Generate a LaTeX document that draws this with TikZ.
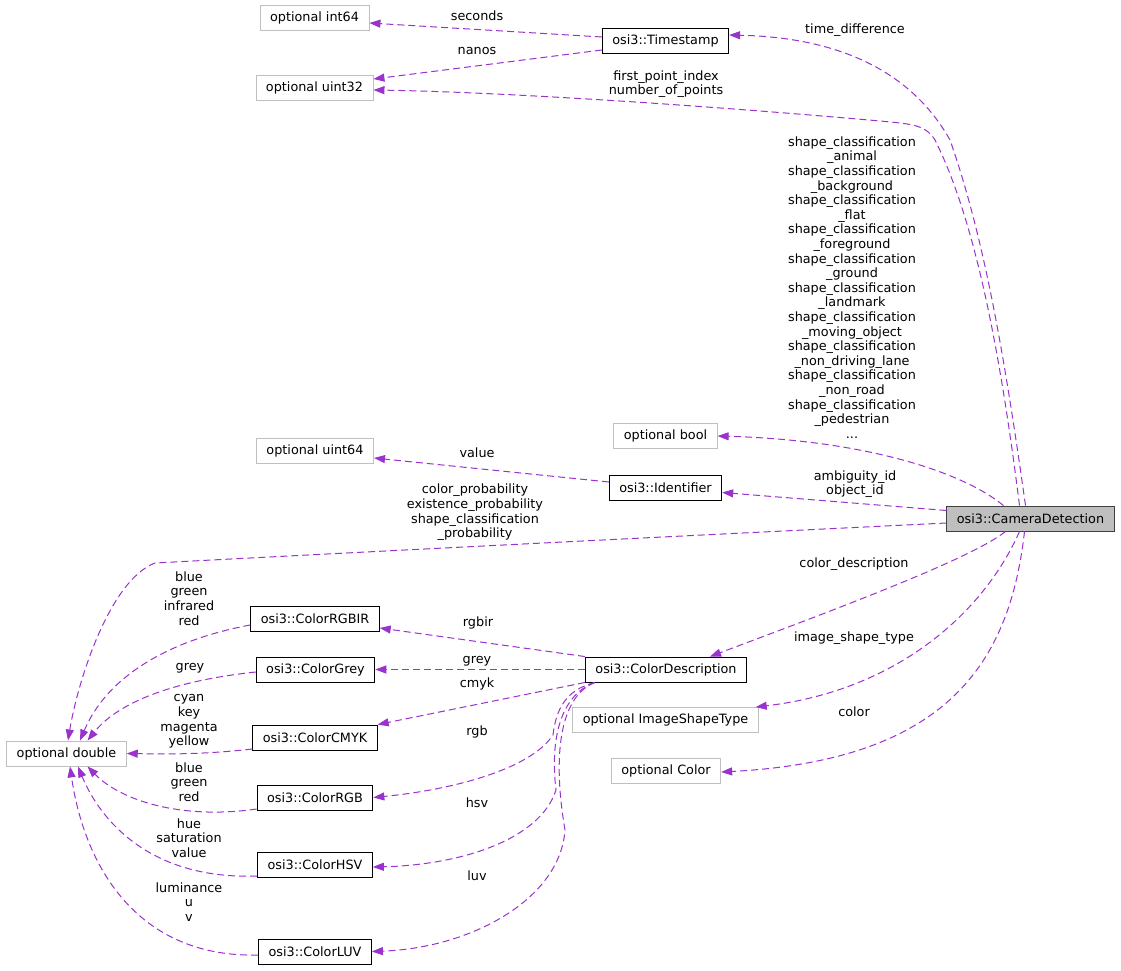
\documentclass[tikz,border=0pt]{standalone}
\usepackage{fontspec}
\setmainfont{DejaVu Sans}
\usetikzlibrary{arrows.meta}

\begin{document}
\begin{tikzpicture}[
            x=1pt,y=-1pt,
            cls/.style={draw=black,fill=white,line width=0.9pt,inner xsep=10pt,inner ysep=0pt,minimum height=25pt},
            opt/.style={cls,draw=gryx},
            lbl/.style={align=center,inner sep=0pt},
            edge/.style={purx,line width=1pt,dash pattern=on 7pt off 4pt,-{Triangle[length=11pt,width=8pt]}},
            every node/.append style={font=\fontsize{12.8}{14.6}\selectfont}
        ]
            \definecolor{purx}{HTML}{9A32CD}
            \definecolor{gryx}{HTML}{BFBFBF}
            \definecolor{cdx}{HTML}{BFBFBF}

            \fill [white] (0,0) rectangle (1121,971);
            \useasboundingbox (0,0) rectangle (1121,971);

            % classes
            \node (cd)     at (1030.5,518.5) [cls,fill=cdx,draw=black!75] {osi3::CameraDetection};
            \node (ts)     at (665.5,41)     [cls] {osi3::Timestamp};
            \node (ident)  at (665.5,487.5)  [cls] {osi3::Identifier};
            \node (cdesc)  at (666,669.5)    [cls] {osi3::ColorDescription};
            \node (rgbir)  at (315,618.5)    [cls] {osi3::ColorRGBIR};
            \node (grey)   at (315.5,669.5)  [cls] {osi3::ColorGrey};
            \node (cmyk)   at (315,737.5)    [cls] {osi3::ColorCMYK};
            \node (rgb)    at (315,797.5)    [cls] {osi3::ColorRGB};
            \node (hsv)    at (315,865)      [cls] {osi3::ColorHSV};
            \node (luv)    at (315,951.5)    [cls] {osi3::ColorLUV};

            % plain types
            \node (int64)  at (314.5,18)     [opt] {optional int64};
            \node (uint32) at (314.5,88)     [opt] {optional uint32};
            \node (uint64) at (315,450.5)    [opt] {optional uint64};
            \node (obool)  at (665.5,436)    [opt] {optional bool};
            \node (odbl)   at (66.5,753.5)   [opt] {optional double};
            \node (ishape) at (665.5,720)    [opt] {optional ImageShapeType};
            \node (ocolor) at (666,770.5)    [opt] {optional Color};

            % CameraDetection members
            \draw [edge] ([xshift=-5pt]cd.north) .. controls (1005,360) and (985,240) .. (950,140)
                .. controls (905,60) and (820,37) .. ([yshift=6pt]ts.east);
            \draw [edge] ([xshift=-11pt]cd.north) .. controls (1000,350) and (975,220) .. (935,140)
                .. controls (925,124) and (910,124) .. (880,121)
                .. controls (700,105) and (500,92) .. ([yshift=-2pt]uint32.east);
            \draw [edge] ([xshift=-27pt]cd.north) .. controls (960,470) and (860,440) .. (obool.east);
            \draw [edge] ([yshift=8pt]cd.west) -- ([yshift=-5pt]ident.east);
            \draw [edge] ([yshift=-4.5pt]cd.west) .. controls (700,535) and (400,550) .. (155,563)
                .. controls (110,580) and (78,680) .. ([xshift=1.5pt]odbl.north);
            \draw [edge] ([xshift=-25pt]cd.south) .. controls (970,560) and (820,615) .. ([xshift=44pt]cdesc.north);
            \draw [edge] ([xshift=-11pt]cd.south) .. controls (985,610) and (900,690) .. ([xshift=-3pt]ishape.north east);
            \draw [edge] ([xshift=-6pt]cd.south) .. controls (1010,660) and (950,760) .. ([yshift=-1.5pt]ocolor.east);

            \node (ltd)   at (855,30)    [lbl] {time\_difference};
            \node (lfpi)  at (666,84)    [lbl] {first\_point\_index\\number\_of\_points};
            \node (lshp)  at (852,287.5) [lbl] {shape\_classification\\\_animal\\shape\_classification\\\_background\\shape\_classification\\\_flat\\shape\_classification\\\_foreground\\shape\_classification\\\_ground\\shape\_classification\\\_landmark\\shape\_classification\\\_moving\_object\\shape\_classification\\\_non\_driving\_lane\\shape\_classification\\\_non\_road\\shape\_classification\\\_pedestrian\\...};
            \node (lid)   at (855,484)   [lbl] {ambiguity\_id\\object\_id};
            \node (lprob) at (475,512.5) [lbl] {color\_probability\\existence\_probability\\shape\_classification\\\_probability};
            \node (lcd)   at (854,564)   [lbl] {color\_description};
            \node (list)  at (854,638)   [lbl] {image\_shape\_type};
            \node (lcol)  at (854,712)   [lbl] {color};

            % Timestamp and Identifier members
            \draw [edge] ([yshift=4pt]ts.west) -- ([yshift=-5pt]int64.east);
            \draw [edge] ([yshift=-9pt]ts.west) -- ([yshift=9pt]uint32.east);
            \draw [edge] ([yshift=5.5pt]ident.west) -- ([yshift=-7.5pt]uint64.east);
            \node (lsec) at (477,16)  [lbl] {seconds};
            \node (lnan) at (477,51)  [lbl] {nanos};
            \node (lval) at (477,453) [lbl] {value};

            % ColorDescription members
            \draw [edge] (cdesc.north west) -- ([yshift=-9.5pt]rgbir.east);
            \draw [edge] (cdesc.west) -- (grey.east);
            \draw [edge] (cdesc.south west) -- (cmyk.north east);
            \draw [edge] ([xshift=10pt]cdesc.south west) .. controls (565,690) and (556,710) .. (553,735)
                .. controls (530,770) and (450,790) .. (rgb.east);
            \draw [edge] ([xshift=10pt]cdesc.south west) .. controls (560,695) and (550,740) .. (556,790)
                .. controls (540,840) and (460,865) .. ([yshift=-2pt]hsv.east);
            \draw [edge] ([xshift=10pt]cdesc.south west) .. controls (558,697) and (553,760) .. (565,830)
                .. controls (560,900) and (470,948) .. (luv.east);
            \node (lrgbir) at (478,623) [lbl] {rgbir};
            \node (lgrey)  at (477,661) [lbl] {grey};
            \node (lcmyk)  at (477,684) [lbl] {cmyk};
            \node (lrgb)   at (477,732) [lbl] {rgb};
            \node (lhsv)   at (477,803) [lbl] {hsv};
            \node (lluv)   at (477,876) [lbl] {luv};

            % colour channels
            \draw [edge] ([yshift=-6.5pt]rgbir.west) .. controls (180,638) and (110,670) .. ([xshift=13.5pt]odbl.north);
            \draw [edge] ([yshift=-2.5pt]grey.west) .. controls (180,680) and (120,700) .. ([xshift=21pt]odbl.north);
            \draw [edge] ([yshift=-11.5pt]cmyk.west) .. controls (200,755) and (160,754) .. (odbl.east);
            \draw [edge] ([yshift=-11.5pt]rgb.west) .. controls (180,820) and (120,800) .. ([xshift=21pt]odbl.south);
            \draw [edge] ([yshift=-11pt]hsv.west) .. controls (150,880) and (100,820) .. ([xshift=11.5pt]odbl.south);
            \draw [edge] ([yshift=-3.5pt]luv.west) .. controls (140,958) and (85,870) .. ([xshift=3.5pt]odbl.south);
            \node (lbgir) at (189,598.5) [lbl] {blue\\green\\infrared\\red};
            \node (lgr)   at (190,668)   [lbl] {grey};
            \node (lckmy) at (189,721.5) [lbl] {cyan\\key\\magenta\\yellow};
            \node (lbgr)  at (189,782)   [lbl] {blue\\green\\red};
            \node (lhsvv) at (189,838)   [lbl] {hue\\saturation\\value};
            \node (luvv)  at (189,902)   [lbl] {luminance\\u\\v};
        \end{tikzpicture}
\end{document}
